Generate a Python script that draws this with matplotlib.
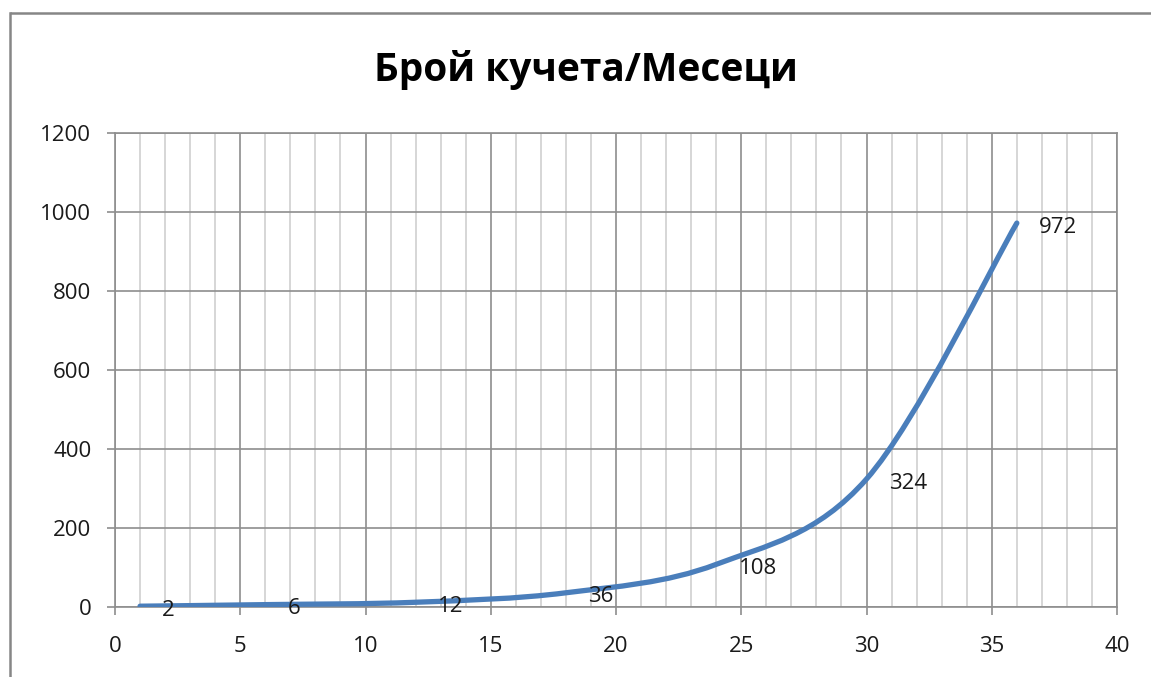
import numpy as np
import matplotlib.pyplot as plt
from matplotlib.path import Path
from matplotlib.patches import PathPatch
from matplotlib.lines import Line2D

# данни: месеци / брой кучета
months = [1, 6, 12, 18, 24, 30, 36]
dogs = [2, 6, 12, 36, 108, 324, 972]
title = 'Брой кучета/Месеци'

plt.rcParams['font.family'] = ['Open Sans', 'DejaVu Sans']

fig = plt.figure(figsize=(11.51, 6.77), dpi=100)
fig.patch.set_facecolor('white')
ax = fig.add_axes([0.0999, 0.1034, 0.8706, 0.7001])

# рамка на диаграмата (ляво и горе)
fw, fh = 1151.0, 677.0
fx = 10 / fw
fy = 1 - 13 / fh
fig.add_artist(Line2D([fx, fx], [0.0, fy], transform=fig.transFigure,
                      color='#868686', lw=1.8, solid_capstyle='projecting'))
fig.add_artist(Line2D([fx, 1.0], [fy, fy], transform=fig.transFigure,
                      color='#868686', lw=1.8, solid_capstyle='butt'))

ax.set_xlim(0, 40)
ax.set_ylim(0, 1200)
ax.set_xticks(np.arange(0, 41, 5))
ax.set_xticks(np.arange(0, 41, 1), minor=True)
ax.set_yticks(np.arange(0, 1201, 200))

ax.grid(True, which='minor', axis='x', color='#cfcfcf', lw=1.2)
ax.grid(True, which='major', axis='x', color='#8e8e8e', lw=1.2)
ax.grid(True, which='major', axis='y', color='#8e8e8e', lw=1.2)
ax.set_axisbelow(True)
for s in ax.spines.values():
    s.set_color('#8e8e8e')
    s.set_linewidth(1.2)

ax.tick_params(axis='both', which='major', length=6, width=1.2, color='#8e8e8e',
               labelsize=16, labelcolor='#1a1a1a')
ax.tick_params(axis='y', pad=11)
ax.tick_params(axis='x', pad=15)
ax.tick_params(axis='x', which='minor', length=0)

# изгладена линия (Безие, както в Excel)
pts = np.column_stack([months, dogs]).astype(float)
ext = np.vstack([pts[0], pts, pts[-1]])
verts = [tuple(pts[0])]
codes = [Path.MOVETO]
for i in range(len(pts) - 1):
    p0, p1, p2, p3 = ext[i], ext[i + 1], ext[i + 2], ext[i + 3]
    c1 = p1 + (p2 - p0) / 6.0
    c2 = p2 - (p3 - p1) / 6.0
    verts += [tuple(c1), tuple(c2), tuple(p2)]
    codes += [Path.CURVE4] * 3
ax.add_patch(PathPatch(Path(verts, codes), facecolor='none', edgecolor='#4a7ebb',
                       lw=3.8, capstyle='round', zorder=3))

for x, y in zip(months, dogs):
    ax.annotate(str(y), (x, y), xytext=(16, -3), textcoords='offset points',
                ha='left', va='center', fontsize=16, color='#1a1a1a', zorder=4)

fig.text(0.509, 0.897, title, ha='center', va='center', fontsize=28, fontweight='bold',
         color='black')

fig.savefig('out.png', dpi=100)
